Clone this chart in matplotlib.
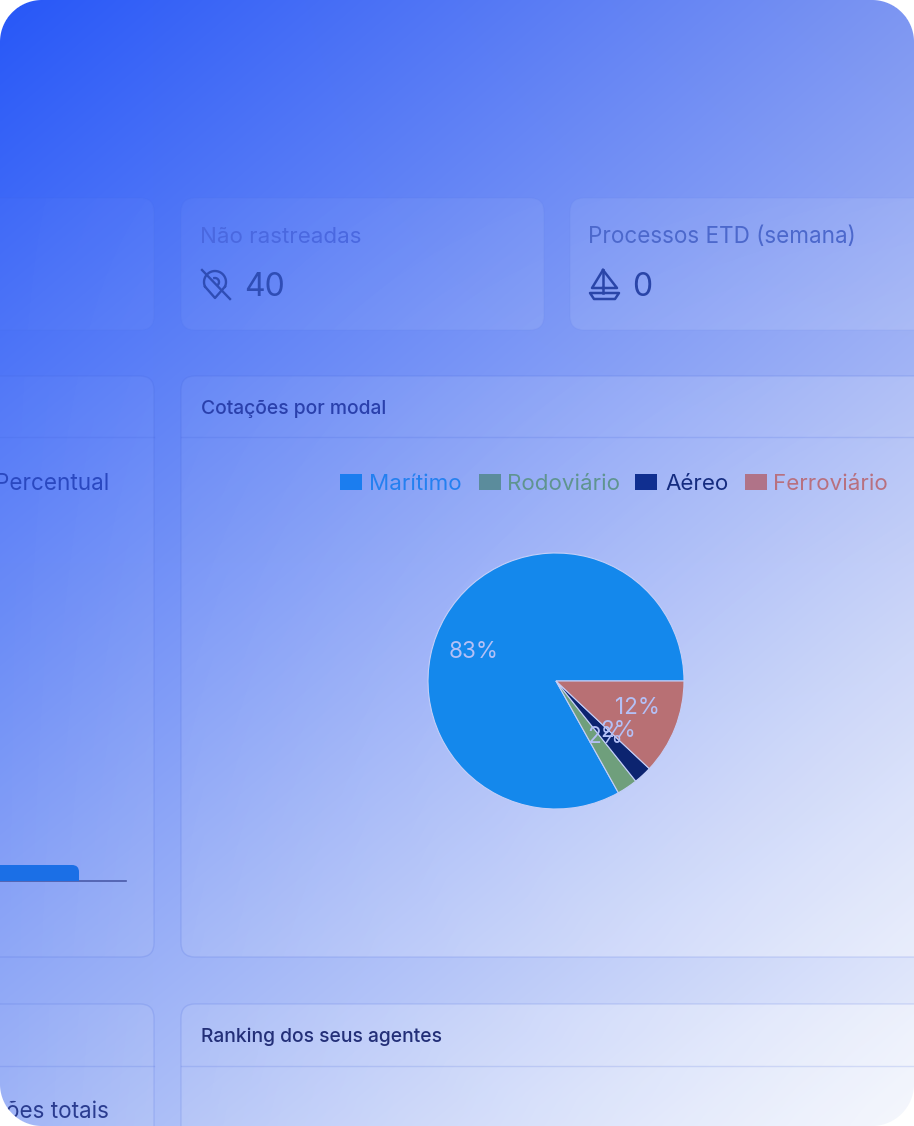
import numpy as np
import matplotlib
matplotlib.use("Agg")
import matplotlib.pyplot as plt
from matplotlib.patches import FancyBboxPatch, Rectangle, Polygon

plt.rcParams['font.family'] = ['Inter', 'DejaVu Sans']

# ---- data ----
modes = ['Marítimo', 'Rodoviário', 'Aéreo', 'Ferroviário']
shares = [83.1, 2.6, 2.3, 12.0]
pct_labels = ['83%', '2%', '2%', '12%']
slice_colors = ['#1488ec', '#6f9f7c', '#0c2470', '#b87074']
swatch_colors = ['#1b7def', '#5b8c9c', '#102f90', '#b07388']
legend_text_colors = ['#2480f0', '#5f9490', '#152c80', '#b8707f']
card_titles = ['Não rastreadas', 'Processos ETD (semana)']
card_values = ['40', '0']

W, H = 914, 1126
fig = plt.figure(figsize=(W / 100, H / 100), dpi=100)
bg = fig.add_axes([0, 0, 1, 1])
bg.axis('off')

# background gradient
yy, xx = np.mgrid[0:H, 0:W]
u, v = xx / (W - 1), yy / (H - 1)
def c(h):
    return np.array(matplotlib.colors.to_rgb(h))
c00, c10, c01, c11 = c('#2757f8'), c('#7d96f2'), c('#9fb4f6'), c('#eef2fc')
grad = ((1 - u)[..., None] * (1 - v)[..., None] * c00 + u[..., None] * (1 - v)[..., None] * c10
        + (1 - u)[..., None] * v[..., None] * c01 + u[..., None] * v[..., None] * c11)
bg.imshow(grad, extent=(0, W, H, 0), aspect='auto', zorder=0, interpolation='bilinear')

# card sheen: white overlay that grows toward the lower right
sheen = np.ones((H, W, 4))
sheen[..., 3] = 0.02 + 0.4 * u * v
EDGE = '#3f5fd8'
def card(x0, y0, x1, y1, edge=0.16):
    p = FancyBboxPatch((x0 + 14, y0 + 14), x1 - x0 - 28, y1 - y0 - 28,
                       boxstyle='round,pad=14,rounding_size=14',
                       fc='none', ec=matplotlib.colors.to_rgba(EDGE, edge), lw=1.0, zorder=2)
    bg.add_patch(p)
    im = bg.imshow(sheen, extent=(0, W, H, 0), aspect='auto', zorder=1)
    im.set_clip_path(p)

card(-60, 198, 154, 330, edge=0.05)
card(181, 198, 544, 330, edge=0.05)
card(570, 198, 1000, 330, edge=0.05)
card(-60, 376, 154, 957)
card(181, 376, 1000, 957)
card(-60, 1004, 154, 1200)
card(181, 1004, 1000, 1200)
bg.plot([-60, 154], [437, 437], color=EDGE, alpha=0.16, lw=1.0, zorder=2)
bg.plot([181, 1000], [437, 437], color=EDGE, alpha=0.16, lw=1.0, zorder=2)
bg.plot([-60, 154], [1066, 1066], color=EDGE, alpha=0.16, lw=1.0, zorder=2)
bg.plot([181, 1000], [1066, 1066], color=EDGE, alpha=0.16, lw=1.0, zorder=2)
bg.set_xlim(0, W)
bg.set_ylim(H, 0)

# stat cards
bg.text(200, 237, card_titles[0], fontsize=16.1, color='#4a68e0', va='center', zorder=5)
bg.text(588, 237, card_titles[1], fontsize=16.2, color='#4c68cc', va='center', zorder=5)
bg.text(244, 288, card_values[0], fontsize=23, color='#2f4db5', va='center', zorder=5)
bg.text(632, 288, card_values[1], fontsize=23, color='#2a45a8', va='center', zorder=5)

# pin-off icon
ic = '#2f4db5'
t = np.radians(np.arange(-205, 26, 10))
bg.plot(215 + 11 * np.cos(t), 282 + 11 * np.sin(t), color=ic, lw=1.7, zorder=5)
bg.plot([205, 215, 225], [286.6, 298, 286.6], color=ic, lw=1.7, zorder=5)
t2 = np.radians(np.arange(-100, 41, 10))
bg.plot(215 + 4 * np.cos(t2), 282 + 4 * np.sin(t2), color=ic, lw=1.7, zorder=5)
bg.plot([202, 230], [270, 299], color=ic, lw=1.7, zorder=5)

# boat icon
ic2 = '#2a45a8'
bg.plot([603, 603], [270, 293], color=ic2, lw=1.8, zorder=5)
bg.plot([603, 592, 603], [270, 288, 288], color=ic2, lw=1.8, zorder=5)
bg.plot([603, 617, 603], [270, 288, 288], color=ic2, lw=1.8, zorder=5)
bg.add_patch(Polygon([[590, 293], [619, 293], [615, 299], [594, 299]], closed=True,
                     fc='none', ec=ic2, lw=1.8, joinstyle='round', zorder=5))

# headers
bg.text(201, 409, 'Cotações por modal', fontsize=13.9, fontweight='medium', color='#2a40ac', va='center', zorder=5)
bg.text(201, 1037, 'Ranking dos seus agentes', fontsize=13.9, fontweight='medium', color='#232f78', va='center', zorder=5)

# left fragments
bg.text(109, 484, 'Percentual', fontsize=16.2, color='#2a48c0', va='center', ha='right', zorder=5)
bg.text(109, 1112, 'ões totais', fontsize=16.2, color='#2a3c90', va='center', ha='right', zorder=5)
bg.plot([0, 126], [881, 881], color='#4a5aa8', lw=1.2, zorder=4)
bg.add_patch(FancyBboxPatch((-30, 865), 109, 16, boxstyle='round,pad=0,rounding_size=7',
                            fc='#1b6fe6', ec='none', zorder=5))
bg.add_patch(Rectangle((-30, 874), 109, 7, fc='#1b6fe6', ec='none', zorder=5))

# legend
sw_x = [340, 479, 635, 745]
tx_x = [369, 507, 665, 773]
for sx, tx, name, sc, tc in zip(sw_x, tx_x, modes, swatch_colors, legend_text_colors):
    bg.add_patch(Rectangle((sx, 474), 22, 16, fc=sc, ec='none', zorder=5))
    bg.text(tx, 484, name, fontsize=16.1, color=tc, va='center', zorder=5)

# pie
cx, cy, R = 556, 681, 128
pie_ax = fig.add_axes([(cx - R - 2) / W, 1 - (cy + R + 2) / H, (2 * R + 4) / W, (2 * R + 4) / H], zorder=3)
pie_ax.patch.set_alpha(0)
pie_ax.pie(shares, colors=slice_colors, startangle=0, counterclock=True, radius=1.0,
           wedgeprops=dict(edgecolor='#c4cff8', linewidth=0.8))
pie_ax.set_xlim(-(R + 2) / R, (R + 2) / R)
pie_ax.set_ylim(-(R + 2) / R, (R + 2) / R)

lab = fig.add_axes([0, 0, 1, 1], zorder=6)
lab.axis('off')
lab.patch.set_alpha(0)
for (x, y), s in zip([(474, 652), (605, 737), (618, 731), (637, 708)], pct_labels):
    lab.text(x, y, s, fontsize=16.2, color='#b4c0f6', ha='center', va='center')

# rounded outer corners
r = 42
dx = np.minimum(xx + 0.5, W - xx - 0.5)
dy = np.minimum(yy + 0.5, H - yy - 0.5)
d = np.hypot(np.clip(r - dx, 0, None), np.clip(r - dy, 0, None))
mask = np.ones((H, W, 4))
mask[..., 3] = np.clip(d - r + 0.5, 0, 1)
lab.imshow(mask, extent=(0, W, H, 0), aspect='auto', zorder=20, interpolation='nearest')
lab.set_xlim(0, W)
lab.set_ylim(H, 0)

fig.savefig('out.png', dpi=100)
